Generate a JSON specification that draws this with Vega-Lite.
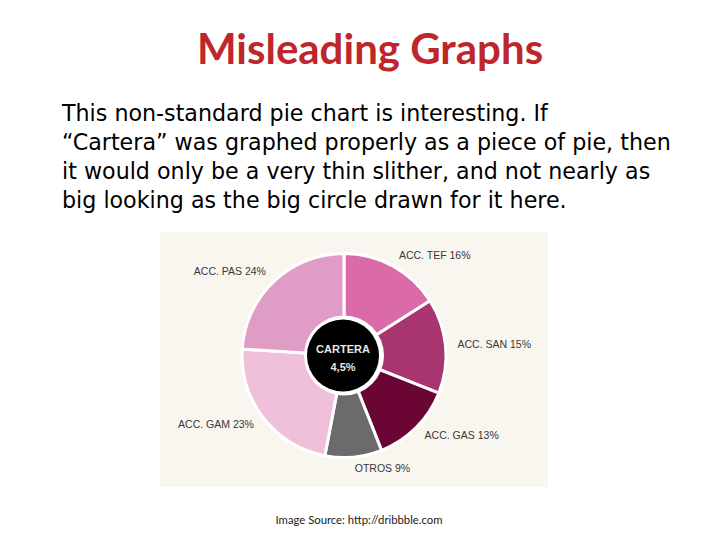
{
  "$schema": "https://vega.github.io/schema/vega-lite/v6.json",
  "description": "Misleading Graphs slide: non-standard pie chart with a big circle for Cartera",
  "background": "white",
  "padding": {"left": 62, "top": 30, "right": 0, "bottom": 0},
  "config": {"view": {"stroke": null}},
  "title": {
    "text": "Misleading Graphs",
    "anchor": "middle",
    "frame": "group",
    "font": "Lato",
    "fontSize": 42,
    "fontWeight": "bold",
    "color": "#bf262c",
    "offset": 30,
    "dx": 16
  },
  "datasets": {
    "slices": [
      {"name": "ACC. TEF", "label": "ACC. TEF 16%", "pct": 16, "order": 1},
      {"name": "ACC. SAN", "label": "ACC. SAN 15%", "pct": 15, "order": 2},
      {"name": "ACC. GAS", "label": "ACC. GAS 13%", "pct": 13, "order": 3},
      {"name": "OTROS", "label": "OTROS 9%", "pct": 9, "order": 4},
      {"name": "ACC. GAM", "label": "ACC. GAM 23%", "pct": 23, "order": 5},
      {"name": "ACC. PAS", "label": "ACC. PAS 24%", "pct": 24, "order": 6}
    ],
    "cartera": [{"name": "CARTERA", "label": "4,5%", "pct": 4.5}],
    "source": [{"text": "Image Source: http://dribbble.com"}]
  },
  "spacing": 27,
  "vconcat": [
    {
      "width": 388,
      "height": 255,
      "view": {"fill": "#f8f6ef", "stroke": null},
      "title": {
        "text": [
          "This non-standard pie chart is interesting. If",
          "“Cartera” was graphed properly as a piece of pie, then",
          "it would only be a very thin slither, and not nearly as",
          "big looking as the big circle drawn for it here."
        ],
        "anchor": "start",
        "dx": -98,
        "font": "DejaVu Sans",
        "fontSize": 22.2,
        "fontWeight": "normal",
        "color": "black",
        "lineHeight": 29,
        "offset": 19.5
      },
      "layer": [
        {
          "data": {"name": "slices"},
          "mark": {
            "type": "arc",
            "outerRadius": 102,
            "stroke": "white",
            "strokeWidth": 3,
            "xOffset": -10,
            "yOffset": -4
          },
          "encoding": {
            "theta": {"field": "pct", "type": "quantitative", "stack": true},
            "order": {"field": "order", "type": "quantitative"},
            "color": {
              "field": "name",
              "type": "nominal",
              "legend": null,
              "scale": {
                "domain": ["ACC. TEF", "ACC. SAN", "ACC. GAS", "OTROS", "ACC. GAM", "ACC. PAS"],
                "range": ["#db6aa8", "#a83570", "#6a0534", "#6b6b6b", "#f0c0db", "#df9cc4"]
              }
            }
          }
        },
        {
          "data": {"name": "slices"},
          "mark": {
            "type": "text",
            "radius": 114,
            "font": "Liberation Sans",
            "fontSize": 10.5,
            "fill": "#383838",
            "baseline": "middle",
            "align": {"expr": "datum.order <= 4 ? 'left' : 'right'"},
            "xOffset": -10,
            "yOffset": -4
          },
          "encoding": {
            "theta": {"field": "pct", "type": "quantitative", "stack": true},
            "order": {"field": "order", "type": "quantitative"},
            "text": {"field": "label"}
          }
        },
        {
          "data": {"name": "cartera"},
          "mark": {"type": "arc", "outerRadius": 40, "fill": "white", "xOffset": -10, "yOffset": -4},
          "encoding": {}
        },
        {
          "data": {"name": "cartera"},
          "mark": {"type": "arc", "outerRadius": 36, "fill": "black", "xOffset": -11, "yOffset": -4},
          "encoding": {}
        },
        {
          "data": {"name": "cartera"},
          "mark": {
            "type": "text",
            "font": "Liberation Sans",
            "fontSize": 11,
            "fontWeight": "bold",
            "fill": "#e6e6e6",
            "xOffset": -11,
            "yOffset": -10
          },
          "encoding": {"text": {"field": "name"}}
        },
        {
          "data": {"name": "cartera"},
          "mark": {
            "type": "text",
            "font": "Liberation Sans",
            "fontSize": 11,
            "fontWeight": "bold",
            "fill": "#e6e6e6",
            "xOffset": -11,
            "yOffset": 8
          },
          "encoding": {"text": {"field": "label"}}
        }
      ],
      "resolve": {"scale": {"theta": "independent"}}
    },
    {
      "width": 388,
      "height": 14,
      "data": {"name": "source"},
      "mark": {
        "type": "text",
        "font": "Lato",
        "fontSize": 11.3,
        "fill": "#222222",
        "xOffset": 5
      },
      "encoding": {"text": {"field": "text"}}
    }
  ]
}
